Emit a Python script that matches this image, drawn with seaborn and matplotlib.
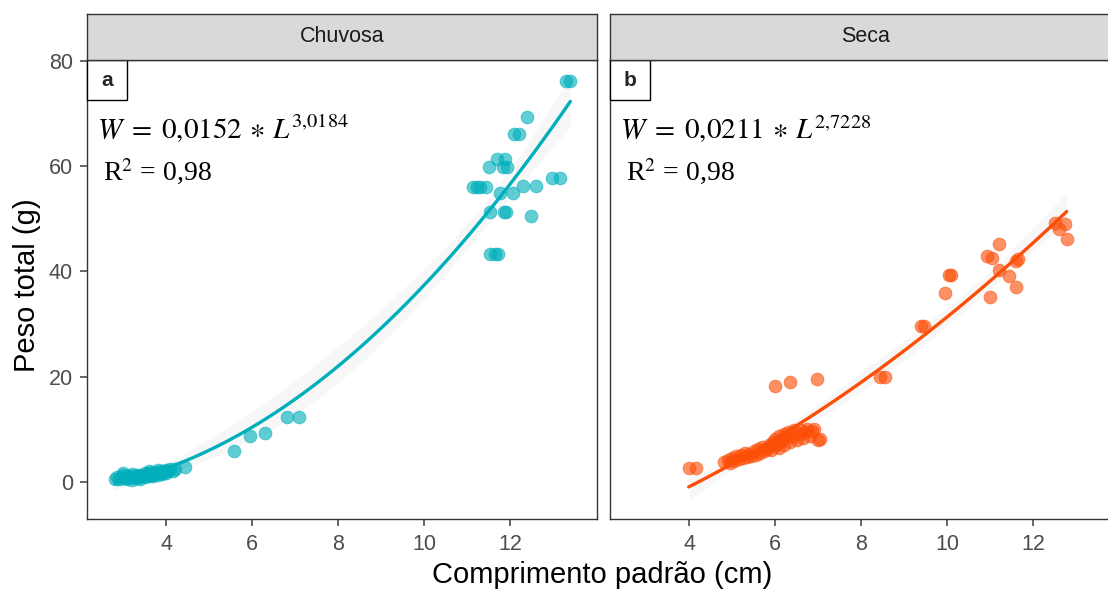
import matplotlib
matplotlib.use("Agg")
import matplotlib.pyplot as plt
from matplotlib.patches import Rectangle
import numpy as np
import pandas as pd
import seaborn as sns

# --- data ------------------------------------------------------------------
chuvosa_x = [
    2.80, 2.85, 2.90, 2.95, 3.00, 3.00, 3.05, 3.10, 3.10, 3.15, 3.20, 3.20,
    3.25, 3.30, 3.30, 3.35, 3.40, 3.40, 3.45, 3.50, 3.50, 3.55, 3.60, 3.60,
    3.65, 3.70, 3.70, 3.75, 3.80, 3.80, 3.85, 3.90, 3.90, 3.95, 4.00, 4.00,
    4.05, 4.10, 4.15, 4.20, 3.00, 3.20, 3.40, 3.60, 3.80,
    4.44, 5.57, 5.96, 6.29, 6.81, 7.09,
    11.13, 11.22, 11.30, 11.44, 11.51, 11.53, 11.53, 11.65, 11.70, 11.72,
    11.77, 11.84, 11.85, 11.88, 11.90, 11.93, 12.07, 12.10, 12.20, 12.30,
    12.40, 12.49, 12.61, 12.98, 13.17, 13.30, 13.40,
]
chuvosa_y = [
    0.6, 0.9, 0.5, 1.0, 0.7, 1.3, 0.8, 1.1, 0.6, 1.2, 0.9, 1.5,
    1.0, 1.3, 0.7, 1.1, 1.4, 0.9, 1.2, 1.6, 1.0, 1.3, 1.7, 1.1,
    1.4, 1.8, 1.2, 1.5, 1.9, 1.3, 1.6, 2.1, 1.5, 1.8, 2.3, 1.6,
    2.0, 2.4, 2.1, 2.5, 1.6, 0.4, 0.6, 2.0, 2.2,
    2.9, 5.9, 8.8, 9.3, 12.4, 12.4,
    56.0, 56.0, 56.0, 56.0, 59.8, 51.4, 43.4, 43.4, 61.3, 43.4,
    54.9, 59.8, 51.4, 61.3, 51.4, 59.8, 54.9, 66.2, 66.2, 56.2,
    69.3, 50.5, 56.2, 57.7, 57.7, 76.3, 76.3,
]

seca_x = [
    3.99, 4.15,
    4.80, 4.90, 4.95, 5.00, 5.05, 5.10, 5.15, 5.20, 5.25, 5.30, 5.35, 5.40,
    5.45, 5.50, 5.55, 5.60, 5.65, 5.70, 5.75, 5.80, 5.85, 5.90, 5.95, 6.00,
    6.00, 6.05, 6.10, 6.10, 6.15, 6.20, 6.20, 6.25, 6.30, 6.35, 6.40, 6.45,
    6.50, 6.55, 6.60, 6.65, 6.70, 6.75, 6.80, 6.85, 6.90, 7.00, 7.05,
    6.00, 6.35, 6.98, 8.45, 8.55, 9.40, 9.47, 9.96, 10.05, 10.08,
    10.92, 11.00, 11.05, 11.20, 11.20, 11.45, 11.60, 11.60, 11.65,
    12.50, 12.60, 12.75, 12.78,
]
seca_y = [
    2.7, 2.7,
    3.8, 4.2, 3.5, 4.5, 4.0, 5.0, 4.3, 5.2, 4.6, 5.5, 4.8, 5.3,
    5.0, 5.8, 5.2, 6.2, 5.5, 6.6, 5.9, 6.3, 7.0, 6.0, 7.5, 6.8,
    8.2, 7.2, 8.8, 6.5, 7.8, 9.2, 7.0, 8.5, 9.5, 7.5, 8.8, 9.8,
    8.0, 9.2, 9.8, 8.3, 9.5, 10.0, 8.8, 9.6, 10.0, 8.0, 8.2,
    18.3, 18.9, 19.6, 20.0, 20.0, 29.7, 29.7, 36.0, 39.4, 39.4,
    43.0, 35.2, 42.6, 45.3, 40.2, 39.2, 37.1, 42.0, 42.3,
    49.2, 48.0, 49.1, 46.1,
]

seasons = ["Chuvosa", "Seca"]
panel_tags = ["a", "b"]
equations = [r"$W\;=\;0{,}0152\,\ast\,L^{3{,}0184}$",
             r"$W\;=\;0{,}0211\,\ast\,L^{2{,}7228}$"]
r2_labels = [r"R$^2$ = 0,98", r"R$^2$ = 0,98"]
colours = {"Chuvosa": "#00AFBB", "Seca": "#FC4E07"}

df = pd.concat([
    pd.DataFrame({"cp": chuvosa_x, "pt": chuvosa_y, "season": "Chuvosa"}),
    pd.DataFrame({"cp": seca_x, "pt": seca_y, "season": "Seca"}),
], ignore_index=True)

# --- figure -----------------------------------------------------------------
sns.set_style("white")
plt.rcParams["font.family"] = ["Liberation Sans", "DejaVu Sans"]
plt.rcParams["mathtext.fontset"] = "stix"

fig = plt.figure(figsize=(11.08, 5.89), dpi=100)
W, H = 1108.0, 589.0
top, bottom = 60.0, 519.0
# the second panel runs past the right edge of the picture (cropped original)
boxes = [(87.0, 597.0), (610.0, 1120.0)]

for i, season in enumerate(seasons):
    x0, x1 = boxes[i]
    ax = fig.add_axes([x0 / W, 1 - bottom / H, (x1 - x0) / W, (bottom - top) / H])
    sub = df.loc[df["season"] == season]
    col = colours[season]

    # faint grey confidence band, then the coloured fit on top
    sns.regplot(data=sub, x="cp", y="pt", order=2, scatter=False, ci=95,
                color="0.8", line_kws={"linewidth": 0}, ax=ax)
    sns.scatterplot(data=sub, x="cp", y="pt", color=col, alpha=0.62, s=85,
                    edgecolor=col, linewidth=0.6, ax=ax, zorder=3)
    sns.regplot(data=sub, x="cp", y="pt", order=2, scatter=False, ci=None,
                color=col, line_kws={"linewidth": 2.4, "zorder": 4}, ax=ax)

    ax.set_xlim(2.16, 14.02)
    ax.set_ylim(-7.05, 80.2)
    ax.set_xticks([4, 6, 8, 10, 12])
    ax.set_yticks([0, 20, 40, 60, 80])
    ax.set_xlabel("")
    ax.set_ylabel("")
    ax.tick_params(axis="both", labelsize=15.5, colors="#4D4D4D", length=5,
                   width=1.2, direction="out", left=True, bottom=True)
    ax.tick_params(axis="x", pad=6)
    ax.tick_params(axis="y", pad=5)
    if i == 1:
        ax.tick_params(axis="y", left=False, labelleft=False)
    for sp in ax.spines.values():
        sp.set_color("#333333")
        sp.set_linewidth(1.0)

    # facet strip
    strip = ax.inset_axes([0, 1, 1, 46.0 / (bottom - top)])
    strip.set_facecolor("#D9D9D9")
    strip.set_xticks([])
    strip.set_yticks([])
    for sp in strip.spines.values():
        sp.set_color("#333333")
        sp.set_linewidth(1.0)
    strip.text(0.5, 0.5, season, ha="center", va="center", fontsize=15.5,
               color="#1A1A1A", transform=strip.transAxes)

    # panel tag box
    bw = 40.0 / (x1 - x0)
    bh = 40.0 / (bottom - top)
    ax.add_patch(Rectangle((0, 1 - bh), bw, bh, transform=ax.transAxes,
                           facecolor="white", edgecolor="black", linewidth=1.0,
                           zorder=5, clip_on=False))
    ax.text(bw / 2, 1 - bh / 2, panel_tags[i], transform=ax.transAxes,
            ha="center", va="center", fontsize=15, fontweight="bold", zorder=6)

    # equation and R2
    ax.text(10.0 / (x1 - x0), 0.85, equations[i], transform=ax.transAxes,
            ha="left", va="center", fontsize=21, color="black")
    ax.text(16.0 / (x1 - x0), 0.755, r2_labels[i], transform=ax.transAxes,
            ha="left", va="center", fontsize=20, color="black",
            family=["Liberation Serif", "DejaVu Serif"])

fig.text(27.0 / W, 1 - 285.0 / H, "Peso total (g)", rotation=90, ha="center",
         va="center", fontsize=21, color="black")
fig.text(602.0 / W, 1 - 575.0 / H, "Comprimento padrão (cm)", ha="center",
         va="center", fontsize=21, color="black")

fig.savefig("out.png", dpi=100)
